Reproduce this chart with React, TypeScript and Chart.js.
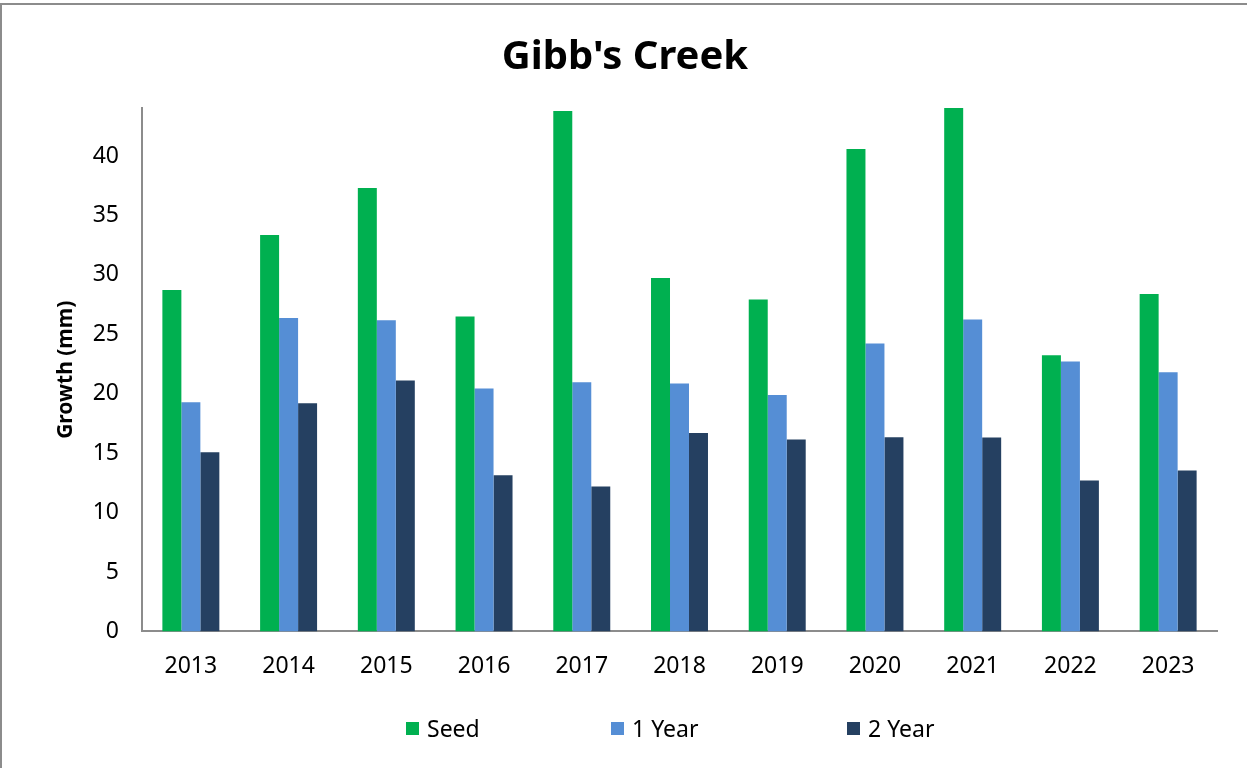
import React, { useEffect, useRef } from "react";
import { Chart, registerables } from "chart.js";

Chart.register(...registerables);

const years = ["2013", "2014", "2015", "2016", "2017", "2018", "2019", "2020", "2021", "2022", "2023"];
const seed = [28.72, 33.35, 37.31, 26.5, 43.79, 29.73, 27.93, 40.59, 44.6, 23.24, 28.38];
const oneYear = [19.28, 26.38, 26.19, 20.44, 20.97, 20.86, 19.9, 24.23, 26.25, 22.71, 21.81];
const twoYear = [15.07, 19.2, 21.11, 13.14, 12.19, 16.7, 16.14, 16.34, 16.31, 12.69, 13.53];
const seriesNames = ["Seed", "1 Year", "2 Year"];
const seriesColors = ["#00B050", "#558ED5", "#254061"];

const FONT = "'Noto Sans', sans-serif";

export default function App() {
  const ref = useRef<HTMLCanvasElement | null>(null);

  useEffect(() => {
    document.body.style.margin = "0";
    const canvas = ref.current;
    if (!canvas) return;
    const values = [seed, oneYear, twoYear];
    const chart = new Chart(canvas, {
      type: "bar",
      data: {
        labels: years,
        datasets: values.map((d, i) => ({
          label: seriesNames[i],
          data: d,
          backgroundColor: seriesColors[i],
          borderWidth: 0,
          categoryPercentage: 0.583,
          barPercentage: 1,
        })),
      },
      options: {
        responsive: false,
        animation: false,
        layout: { padding: { left: 33, right: 30, top: 0, bottom: 75 } },
        plugins: {
          legend: { display: false },
          tooltip: { enabled: false },
          title: {
            display: true,
            text: "Gibb's Creek",
            color: "#000",
            font: { family: FONT, size: 40, weight: "bold" },
            padding: { top: 34, bottom: 26 },
          },
        },
        scales: {
          x: {
            grid: { display: false },
            border: { display: true, color: "#8c8c8c", width: 2 },
            ticks: { color: "#000", font: { family: FONT, size: 23 }, padding: 13, maxRotation: 0 },
          },
          y: {
            min: 0,
            max: 44.04,
            grid: { display: false },
            border: { display: true, color: "#8c8c8c", width: 2 },
            ticks: { stepSize: 5, color: "#000", font: { family: FONT, size: 23 }, padding: 15 },
            afterBuildTicks: (axis: any) => {
              axis.ticks = axis.ticks.filter((t: any) => Math.abs(t.value % 5) < 1e-9);
            },
            afterFit: (axis: any) => {
              axis.width = 109;
            },
            title: {
              display: true,
              text: "Growth (mm)",
              color: "#000",
              font: { family: FONT, size: 21, weight: "bold" },
              padding: { top: 20, bottom: 0 },
            },
          },
        },
      },
    });
    return () => chart.destroy();
  }, []);

  return (
    <div style={{ position: "absolute", left: 0, top: 0, width: 1247, height: 768, background: "#fff", overflow: "hidden" }}>
      <div
        style={{
          position: "absolute",
          left: 0,
          top: 3,
          width: 1260,
          height: 780,
          borderTop: "2px solid #8c8c8c",
          borderLeft: "2px solid #8c8c8c",
          boxSizing: "border-box",
        }}
      />
      <canvas ref={ref} width={1247} height={768} style={{ position: "absolute", left: 0, top: 0 }} />
      <div
        style={{
          position: "absolute",
          top: 712,
          left: 0,
          width: 1247,
          height: 32,
          fontFamily: FONT,
          fontSize: 23,
          color: "#000",
        }}
      >
        {seriesNames.map((n, i) => (
          <div
            key={n}
            style={{
              position: "absolute",
              left: [406, 611, 847][i],
              top: 0,
              display: "flex",
              alignItems: "center",
              height: 32,
              whiteSpace: "nowrap",
            }}
          >
            <span style={{ display: "inline-block", width: 13, height: 13, background: seriesColors[i], marginRight: 8 }} />
            <span>{n}</span>
          </div>
        ))}
      </div>
    </div>
  );
}
